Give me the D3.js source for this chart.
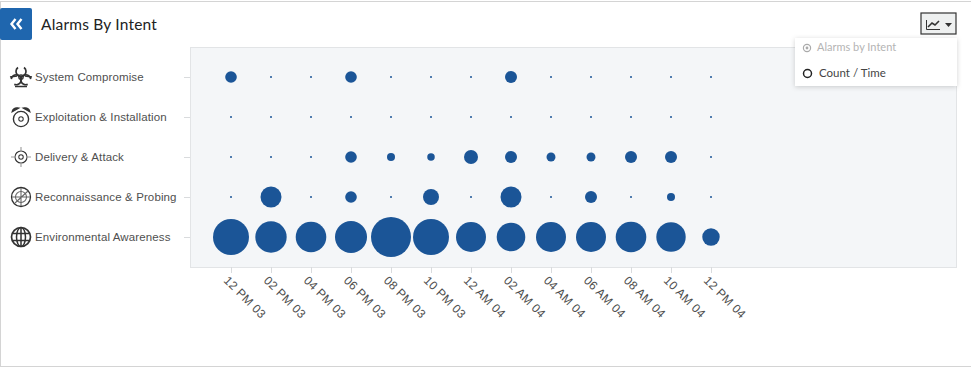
<!DOCTYPE html>
<html>
<head>
<meta charset="utf-8">
<script src="https://cdn.jsdelivr.net/npm/d3@7"></script>
<style>
html, body { margin: 0; padding: 0; background: #fff; }
svg { display: block; font-family: Lato, "Open Sans", sans-serif; }
.axis path { display: none; }
.axis line { stroke: #d9dbdd; }
.axis text { fill: #4f4f4f; font-size: 11.5px; letter-spacing: 0.12px; }
.x-axis text { font-size: 12px; letter-spacing: 0.3px; }
</style>
</head>
<body>
<svg id="chart" width="971" height="368"></svg>
<script>
const intents = ["System Compromise", "Exploitation & Installation", "Delivery & Attack", "Reconnaissance & Probing", "Environmental Awareness"];
const times = ["12 PM 03", "02 PM 03", "04 PM 03", "06 PM 03", "08 PM 03", "10 PM 03", "12 AM 04", "02 AM 04", "04 AM 04", "06 AM 04", "08 AM 04", "10 AM 04", "12 PM 04"];

// alarm counts per time slot
const systemCompromise = [34, 0, 0, 34, 0, 0, 0, 36, 0, 0, 0, 0, 0];
const exploitation = [0, 0, 0, 0, 0, 0, 0, 0, 0, 0, 0, 0, 0];
const delivery = [0, 0, 0, 34, 16, 14, 49, 36, 20, 20, 36, 36, 0];
const recon = [0, 110, 0, 34, 0, 64, 0, 110, 0, 36, 0, 16, 0];
const environmental = [324, 246, 234, 256, 400, 324, 225, 204, 225, 225, 234, 216, 76];

const seriesRows = [systemCompromise, exploitation, delivery, recon, environmental];
const menuItems = ["Alarms by Intent", "Count / Time"];

const svg = d3.select("#chart");
const plot = {left: 190, right: 956, top: 47, bottom: 267};

// panel, right side runs off the window
svg.append("rect").attr("x", 0.5).attr("y", 1.5).attr("width", 975).attr("height", 365)
    .attr("fill", "#fff").attr("stroke", "#d4d4d4");

svg.append("rect").attr("x", plot.left + 0.5).attr("y", plot.top + 0.5)
    .attr("width", plot.right - plot.left).attr("height", plot.bottom - plot.top)
    .attr("fill", "#f4f6f8").attr("stroke", "#e2e4e6");

let x = d3.scalePoint().domain(times).range([231, 711]);
let y = d3.scalePoint().domain(intents).range([77, 237]);
let r = d3.scaleSqrt().domain([0, 400]).range([0, 20]);

svg.append("g").attr("class", "axis x-axis")
    .attr("transform", `translate(0,${plot.bottom})`)
    .call(d3.axisBottom(x).tickSize(6).tickPadding(9))
    .selectAll("text")
    .attr("text-anchor", "start")
    .attr("transform", "rotate(45)")
    .attr("dx", 4).attr("dy", 1);

let yAxis = svg.append("g").attr("class", "axis")
    .attr("transform", `translate(${plot.left},0)`)
    .call(d3.axisLeft(y).tickSize(6).tickPadding(14));
yAxis.selectAll("text").attr("text-anchor", "start").attr("x", -155).attr("dy", "0.32em");

// bubbles
intents.forEach((name, i) => {
    svg.append("g").selectAll("circle")
        .data(seriesRows[i])
        .enter().append("circle")
        .attr("cx", (d, j) => x(times[j]))
        .attr("cy", y(name))
        .attr("r", d => Math.max(r(d), 1))
        .attr("fill", "#1b5597");
});

// icons next to the category labels
const iconStroke = "#333";
function icon(name) {
    return svg.append("g")
        .attr("transform", `translate(21,${y(name)})`)
        .attr("fill", "none").attr("stroke", iconStroke).attr("stroke-width", 1.1);
}

let bio = icon(intents[0]);
[0, 120, 240].forEach(a => {
    bio.append("path")
        .attr("transform", `rotate(${a})`)
        .attr("d", "M-3,-9.5A5,5 0 1 0 3,-9.5")
        .attr("stroke-width", 1.7);
});
bio.append("circle").attr("r", 2.2).attr("stroke-width", 1.3);
bio.append("path").attr("d", "M-11,0L-4,-1M11,0L4,-1M-6,9.5L6,9.5").attr("stroke-width", 1.4);

let clock = icon(intents[1]);
clock.append("circle").attr("cy", 2).attr("r", 7.6).attr("stroke-width", 1.4);
clock.append("circle").attr("cy", 2).attr("r", 2.2);
clock.append("path").attr("d", "M-9,-5Q-8,-10,-2,-9ZM9,-5Q8,-10,2,-9Z").attr("fill", iconStroke);

let target = icon(intents[2]);
target.append("circle").attr("r", 6);
target.append("circle").attr("r", 2.2);
target.append("path").attr("d", "M-10,0L-5,0M5,0L10,0M0,-10L0,-5M0,5L0,10").attr("stroke", "#999");

let radar = icon(intents[3]);
radar.append("circle").attr("r", 9.5).attr("stroke-width", 1.3);
radar.append("circle").attr("r", 5.5).attr("stroke", "#666");
radar.append("path").attr("d", "M-9,0L9,0M0,-9L0,9M-6,6L7,-6").attr("stroke", "#666");

let globe = icon(intents[4]);
globe.append("circle").attr("r", 9.5).attr("stroke-width", 1.7);
globe.append("ellipse").attr("rx", 4.5).attr("ry", 9.5).attr("stroke-width", 1.5);
globe.append("path").attr("d", "M-9,-3.5L9,-3.5M-9,3.5L9,3.5M0,-9.5L0,9.5").attr("stroke-width", 1.5);

// header
svg.append("rect").attr("x", 0).attr("y", 8).attr("width", 32).attr("height", 32)
    .attr("rx", 2).attr("fill", "#1f66ae");
svg.append("path").attr("d", "M15.5,19L11.5,24L15.5,29M21.5,19L17.5,24L21.5,29")
    .attr("fill", "none").attr("stroke", "#fff").attr("stroke-width", 2.4);
svg.append("text").attr("x", 41).attr("y", 30).attr("fill", "#222")
    .attr("font-size", 15.5).attr("letter-spacing", 0.2).text("Alarms By Intent");

// chart type button
svg.append("rect").attr("x", 921).attr("y", 13).attr("width", 35).attr("height", 21)
    .attr("fill", "#eef0f0").attr("stroke", "#333").attr("stroke-width", 1.2);
svg.append("path").attr("d", "M926.5,20L926.5,29.5L940,29.5").attr("fill", "none").attr("stroke", "#333");
svg.append("path").attr("d", "M928,27L932,23L935,25L939,21").attr("fill", "none").attr("stroke", "#333").attr("stroke-width", 1.6);
svg.append("path").attr("d", "M945,23L952,23L948.5,27Z").attr("fill", "#333");

// dropdown
svg.append("defs").append("filter").attr("id", "menuShadow")
    .attr("x", "-10%").attr("y", "-20%").attr("width", "120%").attr("height", "150%")
    .append("feDropShadow").attr("dx", 0).attr("dy", 1).attr("stdDeviation", 2.5)
    .attr("flood-color", "#000").attr("flood-opacity", 0.18);
svg.append("rect").attr("x", 795).attr("y", 38).attr("width", 162).attr("height", 48)
    .attr("fill", "#fff").attr("filter", "url(#menuShadow)");

svg.append("circle").attr("cx", 807).attr("cy", 48).attr("r", 3.6)
    .attr("fill", "none").attr("stroke", "#aaa").attr("stroke-width", 1.2);
svg.append("circle").attr("cx", 807).attr("cy", 48).attr("r", 1.4).attr("fill", "#aaa");
svg.append("circle").attr("cx", 807.5).attr("cy", 73.5).attr("r", 4)
    .attr("fill", "none").attr("stroke", "#222").attr("stroke-width", 1.5);
svg.append("text").attr("x", 817).attr("y", 51).attr("fill", "#b4b4b4")
    .attr("font-size", 11).text(menuItems[0]);
svg.append("text").attr("x", 819).attr("y", 77).attr("fill", "#444")
    .attr("font-size", 11.5).text(menuItems[1]);
</script>
</body>
</html>
